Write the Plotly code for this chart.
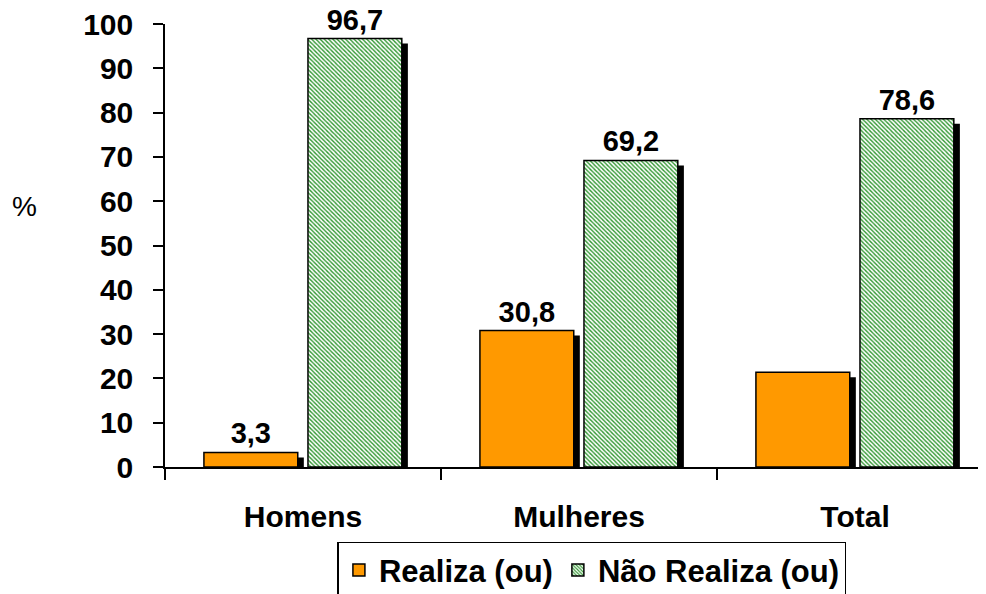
import plotly.graph_objects as go

categories = ["Homens", "Mulheres", "Total"]
realiza = [3.3, 30.8, 21.4]
nao_realiza = [96.7, 69.2, 78.6]
realiza_labels = ["3,3", "30,8", ""]
nao_realiza_labels = ["96,7", "69,2", "78,6"]
y_ticks = [0, 10, 20, 30, 40, 50, 60, 70, 80, 90, 100]

FONT = "Liberation Sans, Arial, sans-serif"
BW = 0.34
OFF_R = -0.359
OFF_N = 0.018
SH_DX = 0.022
SH_BASE = -1.13

fig = go.Figure()

# shadows
for vals, off in [(realiza, OFF_R), (nao_realiza, OFF_N)]:
    fig.add_trace(go.Bar(
        x=categories, y=vals, base=SH_BASE, offset=off + SH_DX, width=BW,
        marker=dict(color="black", line=dict(width=0)),
        showlegend=False, hoverinfo="skip"))

fig.add_trace(go.Bar(
    name="Realiza (ou)", x=categories, y=realiza, offset=OFF_R, width=BW,
    text=realiza_labels, textposition="outside", cliponaxis=False,
    textfont=dict(family=FONT, size=29, color="black", weight="bold"),
    marker=dict(color="#FF9900", line=dict(color="black", width=1.5))))

fig.add_trace(go.Bar(
    name="Não Realiza (ou)", x=categories, y=nao_realiza, offset=OFF_N, width=BW,
    text=nao_realiza_labels, textposition="outside", cliponaxis=False,
    textfont=dict(family=FONT, size=29, color="black", weight="bold"),
    marker=dict(color="#339933", line=dict(color="black", width=1.5),
                pattern=dict(shape="\\", fgcolor="#2f962f", bgcolor="white",
                             size=3, solidity=0.45, fillmode="replace"))))

fig.update_layout(
    width=986, height=594,
    margin=dict(l=157, r=8, t=16, b=135, autoexpand=False),
    paper_bgcolor="white", plot_bgcolor="white",
    barmode="overlay",
    font=dict(family=FONT, color="black"),
    showlegend=True,
    legend=dict(orientation="h", x=0.52, xanchor="center", y=-0.169, yanchor="top",
                bordercolor="black", borderwidth=1.5, bgcolor="white",
                font=dict(family=FONT, size=31, color="black", weight="bold"),
                itemwidth=30, traceorder="normal"),
    xaxis=dict(range=[-0.5, 2.4746], showline=True, linecolor="black", linewidth=1.5,
               ticks="outside", tickson="boundaries", ticklen=11, tickwidth=1.5,
               tickcolor="black", showgrid=False, zeroline=False, automargin=False,
               ticklabelstandoff=22, ticklabeloverflow="allow",
               tickfont=dict(family=FONT, size=30, color="black", weight="bold")),
    yaxis=dict(range=[0, 100], tickvals=y_ticks, showline=True, linecolor="black",
               linewidth=1.5, ticks="outside", ticklen=10, tickwidth=1.5,
               tickcolor="black", showgrid=False, zeroline=False, automargin=False,
               ticklabelstandoff=14, ticklabeloverflow="allow",
               tickfont=dict(family=FONT, size=30, color="black", weight="bold")),
    annotations=[dict(text="%", xref="paper", yref="paper", x=-0.1717, y=0.587,
                      showarrow=False, xanchor="center", yanchor="middle",
                      font=dict(family=FONT, size=28, color="black"))],
)

fig.write_html("out.html")
